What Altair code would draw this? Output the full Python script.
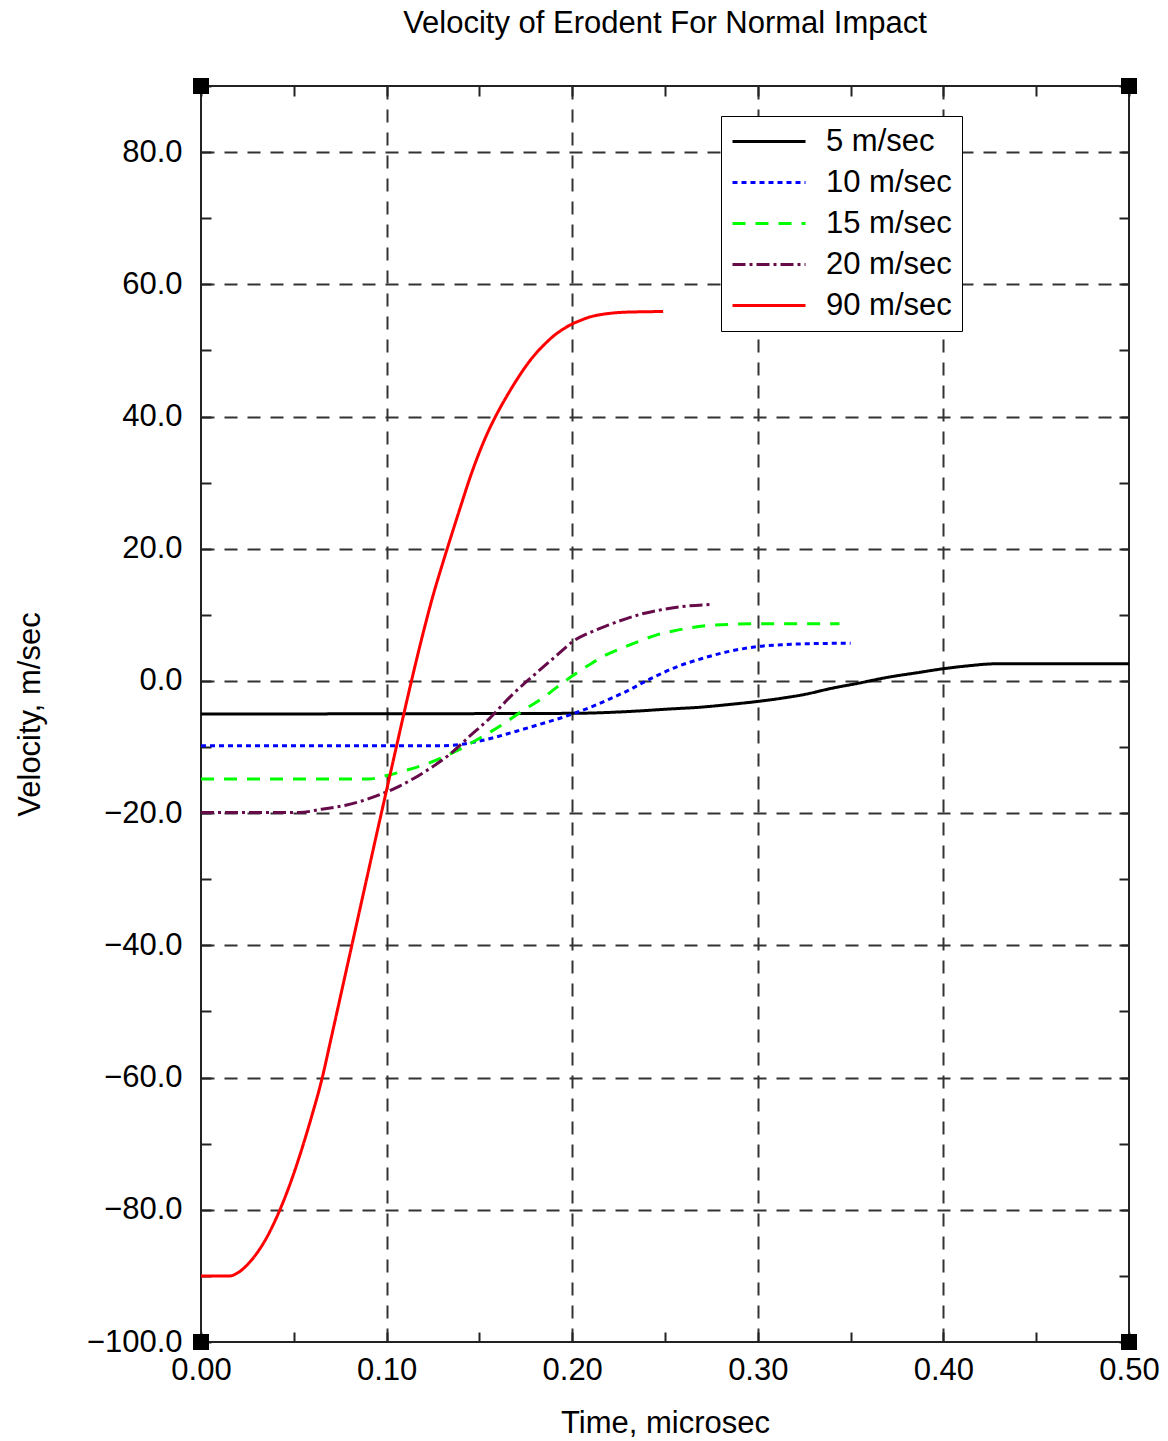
import altair as alt
import pandas as pd

# ---------------- data ----------------
series_labels = ["5 m/sec", "10 m/sec", "15 m/sec", "20 m/sec", "90 m/sec"]
series_colors = ["#000000", "#0000ff", "#00ff00", "#660a4a", "#ff0000"]
series_dashes = [[1, 0], [5, 4], [13, 10], [13, 4, 3, 4], [1, 0]]

t_5 = [0.0, 0.2, 0.232, 0.252, 0.27, 0.285, 0.3, 0.312, 0.325, 0.34, 0.355,
       0.369, 0.386, 0.4, 0.412, 0.429, 0.5]
v_5 = [-5.0, -4.9, -4.6, -4.25, -3.95, -3.55, -3.1, -2.65, -2.05, -1.1, -0.3,
       0.5, 1.25, 1.85, 2.25, 2.6, 2.6]

t_10 = [0.0, 0.13, 0.14, 0.15, 0.16, 0.17, 0.182, 0.196, 0.204, 0.214, 0.222,
        0.229, 0.242, 0.256, 0.27, 0.285, 0.3, 0.315, 0.33, 0.35]
v_10 = [-9.8, -9.8, -9.6, -9.1, -8.4, -7.6, -6.6, -5.4, -4.6, -3.5, -2.5,
        -1.6, 0.3, 2.1, 3.4, 4.5, 5.2, 5.5, 5.65, 5.7]

t_15 = [0.0, 0.09, 0.1, 0.112, 0.123, 0.13, 0.139, 0.148, 0.156, 0.164, 0.173,
        0.184, 0.192, 0.2, 0.209, 0.218, 0.227, 0.236, 0.246, 0.256, 0.274,
        0.3, 0.344]
v_15 = [-14.85, -14.85, -14.3, -13.4, -12.4, -11.6, -10.4, -9.0, -7.7, -6.3,
        -4.55, -2.6, -0.9, 0.75, 2.4, 3.9, 5.0, 6.0, 7.0, 7.65, 8.4, 8.65, 8.65]

t_20 = [0.0, 0.053, 0.065, 0.078, 0.09, 0.0964, 0.107, 0.123, 0.134, 0.1446,
        0.155, 0.168, 0.177, 0.184, 0.193, 0.2, 0.211, 0.219, 0.237, 0.258, 0.276]
v_20 = [-19.9, -19.9, -19.4, -18.8, -17.85, -17.2, -15.9, -13.3, -11.1, -8.4,
        -5.8, -2.0, 0.3, 2.0, 4.2, 5.9, 7.5, 8.4, 10.1, 11.2, 11.6]

t_90 = [0.0, 0.0156, 0.02, 0.025, 0.03, 0.035, 0.04, 0.045, 0.05, 0.055, 0.06,
        0.065, 0.07, 0.075, 0.08, 0.085, 0.09, 0.095, 0.1, 0.105, 0.11, 0.115,
        0.12, 0.125, 0.13, 0.135, 0.14, 0.145, 0.15, 0.155, 0.16, 0.165, 0.17,
        0.175, 0.18, 0.185, 0.19, 0.195, 0.2, 0.205, 0.21, 0.215, 0.22, 0.23,
        0.24, 0.249]
v_90 = [-90.0, -90.0, -89.5, -88.3, -86.6, -84.4, -81.6, -78.3, -74.5, -70.2,
        -65.5, -60.4, -54.2, -47.9, -41.6, -35.3, -29.0, -22.7, -16.5, -10.3,
        -4.1, 1.9, 7.6, 12.9, 17.6, 22.1, 26.5, 30.8, 34.6, 37.9, 40.7, 43.2,
        45.5, 47.6, 49.4, 50.9, 52.2, 53.2, 54.0, 54.6, 55.1, 55.4, 55.6, 55.8,
        55.85, 55.9]

x_tick_values = [0.0, 0.05, 0.1, 0.15, 0.2, 0.25, 0.3, 0.35, 0.4, 0.45, 0.5]
y_tick_values = [-100, -90, -80, -70, -60, -50, -40, -30, -20, -10, 0,
                 10, 20, 30, 40, 50, 60, 70, 80, 90]
x_domain = [0.0, 0.5]
y_domain = [-100, 90]

corner_t = [0.0, 0.0, 0.5, 0.5]
corner_v = [-100, 90, -100, 90]

# ---------------- tables ----------------
rows = []
for label, ts, vs in zip(series_labels, [t_5, t_10, t_15, t_20, t_90],
                         [v_5, v_10, v_15, v_20, v_90]):
    for t, v in zip(ts, vs):
        rows.append({"series": label, "t": t, "v": v})
df = pd.DataFrame(rows)
corner_df = pd.DataFrame({"t": corner_t, "v": corner_v})

# ---------------- styling ----------------
FONT = "Liberation Sans"
FS = 31
tick_style = dict(tickSize=10, tickWidth=2, tickColor="#222", domain=False, offset=-10)

x_scale = alt.Scale(domain=x_domain, nice=False, zero=False)
y_scale = alt.Scale(domain=y_domain, nice=False, zero=False)

x_axis_bottom = alt.Axis(
    orient="bottom", values=x_tick_values,
    labelExpr="round(datum.value * 100) % 10 == 0 ? format(datum.value, '.2f') : ''",
    labelFont=FONT, labelFontSize=FS, labelColor="black", labelPadding=13,
    labelFlush=False, labelOverlap=False,
    grid=True, gridColor="#333", gridWidth=2, gridDash=[13, 10],
    gridOpacity={"condition": {"test": "round(datum.value * 100) % 10 == 0 && datum.value > 0.01 && datum.value < 0.49", "value": 1}, "value": 0},
    title="Time, microsec", titleFont=FONT, titleFontSize=FS, titleFontWeight="normal",
    titleColor="black", titlePadding=23,
    **tick_style)

y_axis_left = alt.Axis(
    orient="left", values=y_tick_values,
    labelExpr="round(datum.value) % 20 == 0 ? format(datum.value, '.1f') : ''",
    labelFont=FONT, labelFontSize=FS, labelColor="black", labelPadding=19,
    labelFlush=False, labelOverlap=False,
    grid=True, gridColor="#333", gridWidth=2, gridDash=[13, 10],
    gridOpacity={"condition": {"test": "round(datum.value) % 20 == 0 && datum.value > -99 && datum.value < 89", "value": 1}, "value": 0},
    title="Velocity, m/sec", titleFont=FONT, titleFontSize=FS, titleFontWeight="normal",
    titleColor="black", titlePadding=40,
    **tick_style)

x_axis_top = alt.Axis(orient="top", values=x_tick_values, labels=False, grid=False,
                      title=None, **tick_style)
y_axis_right = alt.Axis(orient="right", values=y_tick_values, labels=False, grid=False,
                        title=None, **tick_style)

legend = alt.Legend(
    orient="none", legendX=520, legendY=30, title=None,
    symbolType="stroke", symbolSize=5329, symbolStrokeWidth=3,
    labelFont=FONT, labelFontSize=FS, labelColor="black", labelOffset=19,
    clipHeight=31, padding=10, rowPadding=9, strokeColor="black", fillColor="white")

lines = alt.Chart(df).mark_line(strokeWidth=3, interpolate="monotone").encode(
    x=alt.X("t:Q", scale=x_scale, axis=x_axis_bottom),
    y=alt.Y("v:Q", scale=y_scale, axis=y_axis_left),
    color=alt.Color("series:N", sort=series_labels,
                    scale=alt.Scale(domain=series_labels, range=series_colors),
                    legend=legend),
    strokeDash=alt.StrokeDash("series:N", sort=series_labels,
                              scale=alt.Scale(domain=series_labels, range=series_dashes),
                              legend=legend),
)

corners = alt.Chart(corner_df).mark_square(size=256, color="black", opacity=1, filled=True).encode(
    x=alt.X("t:Q", scale=x_scale, axis=x_axis_top),
    y=alt.Y("v:Q", scale=y_scale, axis=y_axis_right),
)

chart = alt.layer(lines, corners).properties(
    width=928, height=1256,
    title=alt.Title("Velocity of Erodent For Normal Impact", font=FONT, fontSize=FS,
                    fontWeight="normal", color="black", anchor="middle", offset=30),
    padding={"left": 201, "top": 86, "right": 39, "bottom": 99},
    autosize=alt.AutoSizeParams(type="none"),
    background="white",
).configure_view(stroke="#222", strokeWidth=2)

chart.save("out.html", embed_options={"renderer": "svg", "actions": False})
